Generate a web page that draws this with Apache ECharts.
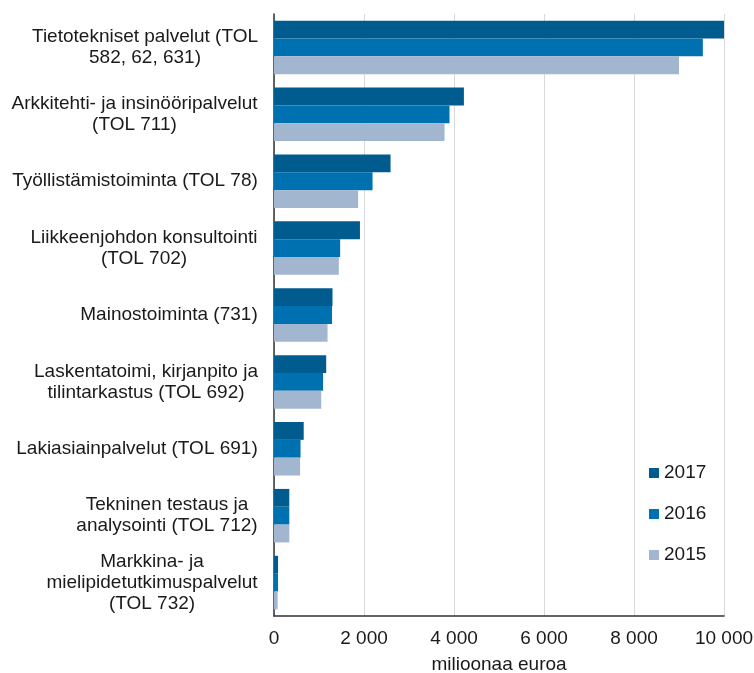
<!DOCTYPE html>
<html>
<head>
<meta charset="utf-8">
<script src="https://cdn.jsdelivr.net/npm/echarts@6/dist/echarts.min.js"></script>
<style>html,body{margin:0;padding:0;background:#fff;}#c{width:754px;height:673px;}</style>
</head>
<body>
<div id="c"></div>
<script>
const categories = [
  "Tietotekniset palvelut (TOL\n582, 62, 631)",
  "Arkkitehti- ja insinööripalvelut\n(TOL 711)",
  "Työllistämistoiminta (TOL 78)",
  "Liikkeenjohdon konsultointi\n(TOL 702)",
  "Mainostoiminta (731)",
  "Laskentatoimi, kirjanpito ja\ntilintarkastus (TOL 692)",
  "Lakiasiainpalvelut (TOL 691)",
  "Tekninen testaus ja\nanalysointi (TOL 712)",
  "Markkina- ja\nmielipidetutkimuspalvelut\n(TOL 732)"
];
const seriesNames = ["2017", "2016", "2015"];
const values2017 = [10020, 4220, 2590, 1910, 1300, 1160, 660, 340, 90];
const values2016 = [9530, 3900, 2190, 1470, 1290, 1090, 590, 340, 90];
const values2015 = [9000, 3790, 1870, 1440, 1190, 1050, 580, 340, 80];
const colors = ["#005b8e", "#0071b0", "#a2b6d0"];
const xTicks = { min: 0, max: 10000, interval: 2000 };
const axisTitle = "milioonaa euroa";

const FONT_SIZE = 19;
const FONT_FAMILY = "Liberation Sans, Arial, sans-serif";
const TEXT_COLOR = "#1a1a1a";
const ctx = document.createElement('canvas').getContext('2d');
ctx.font = FONT_SIZE + "px " + FONT_FAMILY;
const rich = {};
categories.forEach((c, i) => {
  const w = Math.max(...c.split("\n").map(l => ctx.measureText(l).width));
  rich["c" + i] = { width: Math.ceil(w), align: "center", fontSize: FONT_SIZE, fontFamily: FONT_FAMILY, color: TEXT_COLOR, lineHeight: 21 };
});

const chart = echarts.init(document.getElementById('c'), null, { renderer: 'canvas' });
const data = [values2017, values2016, values2015];
chart.setOption({
  animation: false,
  textStyle: { fontFamily: FONT_FAMILY },
  grid: { left: 274, right: 30, top: 14, bottom: 57, containLabel: false, outerBoundsMode: 'none' },
  legend: {
    orient: 'vertical', left: 644, top: 458,
    itemWidth: 10, itemHeight: 10, itemGap: 21,
    icon: 'rect',
    textStyle: { fontSize: FONT_SIZE, color: TEXT_COLOR, fontFamily: FONT_FAMILY, lineHeight: 20 },
    data: seriesNames
  },
  xAxis: {
    type: 'value', min: xTicks.min, max: xTicks.max, interval: xTicks.interval,
    axisLine: { show: true, lineStyle: { color: '#333', width: 1.5 } },
    axisTick: { show: false },
    splitLine: { show: true, lineStyle: { color: '#d9d9d9', width: 1 } },
    axisLabel: {
      fontSize: FONT_SIZE, color: TEXT_COLOR, margin: 13,
      formatter: v => String(v).replace(/\B(?=(\d{3})+(?!\d))/g, ' ')
    },
    name: axisTitle, nameLocation: 'middle', nameGap: 39,
    nameTextStyle: { fontSize: FONT_SIZE, color: TEXT_COLOR }
  },
  yAxis: {
    type: 'category', data: categories, inverse: true,
    axisLine: { show: true, lineStyle: { color: '#333', width: 1.5 } },
    axisTick: { show: false },
    axisLabel: {
      margin: 16, align: 'right',
      formatter: (v, i) => v.split("\n").map(l => "{c" + i + "|" + l + "}").join("\n"),
      rich: rich
    }
  },
  series: seriesNames.map((n, k) => ({
    name: n, type: 'bar', data: data[k],
    barGap: '0%', barCategoryGap: '20%',
    itemStyle: { color: colors[k] }
  }))
});
</script>
</body>
</html>
